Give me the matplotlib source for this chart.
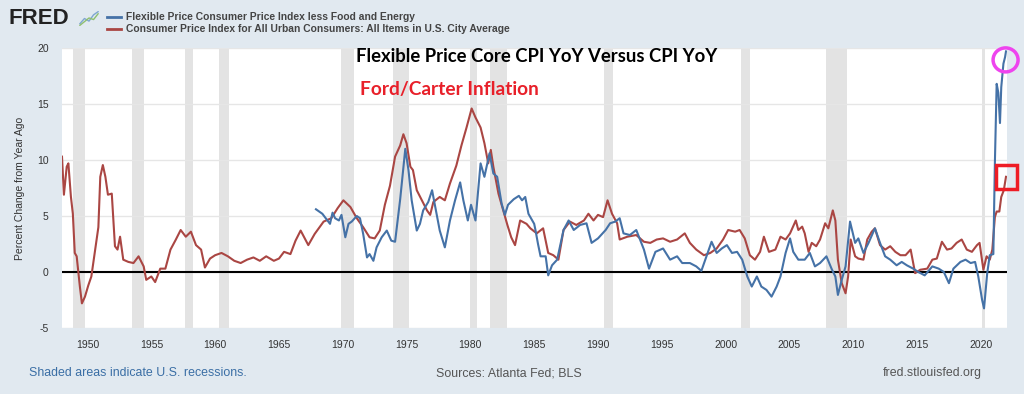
import matplotlib
matplotlib.use("Agg")
import matplotlib.pyplot as plt
import matplotlib.patches as mpatches
import numpy as np

plt.rcParams["axes.unicode_minus"] = False

# CPI all items, percent change from year ago
cpi_years = [1948.0, 1948.15, 1948.37, 1948.5, 1948.7, 1948.85, 1949.0, 1949.15, 1949.4, 1949.56,
             1949.8, 1950.06, 1950.3, 1950.6, 1950.85, 1951.0, 1951.2, 1951.4, 1951.6, 1951.9,
             1952.15, 1952.35, 1952.55, 1952.8, 1953.2, 1953.6, 1954.0, 1954.4, 1954.6, 1955.0,
             1955.3, 1955.7, 1956.1, 1956.5, 1956.9, 1957.3, 1957.7, 1958.1, 1958.5, 1958.9,
             1959.2, 1959.6, 1960.0, 1960.5, 1961.0, 1961.5, 1962.0, 1962.5, 1963.0, 1963.5,
             1964.0, 1964.6, 1965.0, 1965.4, 1965.9, 1966.3, 1966.7, 1967.3, 1967.8, 1968.5,
             1969.1, 1969.6, 1970.05, 1970.6, 1971.1, 1971.6, 1972.1, 1972.5, 1972.9, 1973.3,
             1973.7, 1974.1, 1974.5, 1974.75, 1975.0, 1975.3, 1975.5, 1975.8, 1976.2, 1976.6,
             1976.85, 1977.1, 1977.6, 1978.0, 1978.4, 1978.9, 1979.3, 1979.7, 1980.1, 1980.4,
             1980.8, 1981.1, 1981.4, 1981.6, 1981.8, 1982.2, 1982.5, 1982.9, 1983.2, 1983.5,
             1983.9, 1984.4, 1984.7, 1985.2, 1985.7, 1986.1, 1986.5, 1986.9, 1987.3, 1987.8,
             1988.3, 1988.9, 1989.25, 1989.65, 1990.0, 1990.4, 1990.75, 1991.1, 1991.5, 1991.7,
             1992.3, 1993.0, 1993.6, 1994.1, 1994.6, 1995.1, 1995.65, 1996.2, 1996.8, 1997.2,
             1997.7, 1998.3, 1998.8, 1999.3, 1999.8, 2000.2, 2000.75, 2001.1, 2001.5, 2001.9,
             2002.3, 2002.7, 2003.0, 2003.4, 2003.9, 2004.3, 2004.7, 2005.05, 2005.5, 2005.7,
             2006.0, 2006.2, 2006.5, 2006.75, 2007.1, 2007.4, 2007.8, 2008.05, 2008.4, 2008.6,
             2008.8, 2009.1, 2009.4, 2009.6, 2009.8, 2010.15, 2010.4, 2010.8, 2011.1, 2011.45,
             2011.7, 2012.1, 2012.5, 2012.9, 2013.3, 2013.7, 2014.1, 2014.5, 2014.85, 2015.25,
             2015.8, 2016.2, 2016.55, 2016.95, 2017.35, 2017.7, 2018.1, 2018.5, 2018.9, 2019.3,
             2019.7, 2019.9, 2020.2, 2020.45, 2020.7, 2020.9, 2021.1, 2021.24, 2021.45, 2021.6,
             2021.8, 2021.97]
cpi_vals = [10.3, 6.9, 9.4, 9.7, 6.7, 5.2, 1.7, 1.4, -1.3, -2.8,
            -2.2, -1.2, -0.4, 2.0, 4.0, 8.5, 9.55, 8.5, 6.9, 7.0,
            2.3, 2.0, 3.15, 1.1, 0.9, 0.8, 1.4, 0.5, -0.7, -0.4,
            -0.9, 0.3, 0.3, 2.0, 2.85, 3.75, 3.15, 3.6, 2.4, 2.0,
            0.4, 1.2, 1.5, 1.7, 1.4, 1.0, 0.8, 1.1, 1.3, 1.0,
            1.4, 1.0, 1.2, 1.8, 1.6, 2.8, 3.7, 2.4, 3.4, 4.5,
            4.8, 5.7, 6.4, 5.8, 4.8, 4.0, 3.1, 3.0, 3.7, 6.0,
            7.7, 10.3, 11.3, 12.3, 11.5, 9.4, 9.1, 7.3, 6.4, 5.5,
            5.1, 6.25, 6.7, 6.4, 7.9, 9.5, 11.3, 12.9, 14.6, 13.8,
            12.9, 11.5, 9.7, 10.9, 9.4, 7.0, 5.8, 4.2, 3.1, 2.4,
            4.6, 4.3, 3.9, 3.45, 3.9, 1.7, 1.5, 1.1, 3.75, 4.5,
            4.2, 4.6, 5.2, 4.6, 5.1, 4.9, 6.4, 5.2, 4.35, 2.9,
            3.15, 3.3, 2.7, 2.6, 2.9, 3.0, 2.7, 2.9, 3.45, 2.6,
            2.0, 1.5, 1.7, 2.1, 2.9, 3.75, 3.6, 3.75, 3.0, 1.5,
            1.1, 1.8, 3.15, 1.8, 2.0, 3.15, 2.9, 3.45, 4.6, 3.75,
            4.05, 3.45, 1.8, 2.6, 2.3, 2.9, 4.35, 3.9, 5.5, 4.6,
            1.1, -1.0, -1.9, -0.4, 2.9, 1.4, 1.2, 1.1, 2.9, 3.6,
            3.9, 2.4, 2.0, 2.3, 1.8, 1.5, 1.5, 2.0, -0.1, 0.2,
            0.3, 1.1, 1.2, 2.7, 2.0, 2.1, 2.6, 2.9, 2.0, 1.8,
            2.4, 2.6, 0.2, 1.4, 1.1, 2.0, 4.9, 5.4, 5.4, 6.7,
            7.3, 8.5]

# Flexible price CPI less food and energy, percent change from year ago
core_years = [1967.9, 1968.4, 1968.8, 1969.0, 1969.2, 1969.4, 1969.7, 1969.9, 1970.2, 1970.45,
              1970.7, 1971.1, 1971.35, 1971.6, 1971.9, 1972.1, 1972.4, 1972.65, 1973.05, 1973.45,
              1973.8, 1974.1, 1974.5, 1974.9, 1975.15, 1975.4, 1975.8, 1976.05, 1976.3, 1976.7,
              1977.0, 1977.25, 1977.6, 1978.0, 1978.4, 1978.8, 1979.2, 1979.45, 1979.8, 1980.05,
              1980.4, 1980.8, 1981.1, 1981.5, 1981.8, 1982.1, 1982.45, 1982.7, 1982.95, 1983.4,
              1983.8, 1984.05, 1984.3, 1984.55, 1984.7, 1985.0, 1985.1, 1985.3, 1985.5, 1985.9,
              1986.1, 1986.4, 1986.8, 1987.3, 1987.7, 1988.1, 1988.6, 1989.1, 1989.5, 1990.0,
              1990.6, 1990.95, 1991.35, 1991.7, 1992.0, 1992.5, 1993.0, 1993.6, 1994.0, 1994.5,
              1995.1, 1995.65, 1996.2, 1996.6, 1997.2, 1997.7, 1998.1, 1998.5, 1998.9, 1999.3,
              1999.7, 2000.1, 2000.5, 2000.9, 2001.3, 2001.7, 2002.05, 2002.45, 2002.8, 2003.2,
              2003.6, 2004.0, 2004.3, 2004.7, 2005.05, 2005.3, 2005.7, 2006.2, 2006.6, 2007.0,
              2007.4, 2007.9, 2008.3, 2008.6, 2008.8, 2009.1, 2009.4, 2009.75, 2010.15, 2010.4,
              2010.8, 2011.2, 2011.7, 2012.1, 2012.5, 2012.9, 2013.4, 2013.8, 2014.2, 2014.7,
              2015.1, 2015.6, 2016.2, 2016.7, 2017.1, 2017.5, 2017.85, 2018.4, 2018.8, 2019.2,
              2019.55, 2019.8, 2020.1, 2020.25, 2020.5, 2020.7, 2020.98, 2021.1, 2021.24, 2021.37,
              2021.5, 2021.6, 2021.77, 2021.9, 2021.97]
core_vals = [5.6, 5.2, 4.6, 4.3, 5.3, 4.8, 4.6, 5.1, 3.1, 4.3,
             4.5, 5.0, 4.8, 3.4, 1.3, 1.6, 1.0, 2.2, 3.1, 3.7,
             2.8, 2.7, 6.5, 11.0, 9.1, 6.4, 3.7, 4.3, 5.5, 6.25,
             7.3, 5.8, 3.7, 2.2, 4.6, 6.4, 8.0, 6.4, 4.6, 6.0,
             4.6, 9.7, 8.5, 10.6, 8.8, 8.5, 6.1, 5.1, 6.0, 6.5,
             6.8, 6.4, 6.7, 5.2, 4.9, 4.3, 3.75, 2.5, 1.4, 1.4,
             -0.3, 0.6, 1.1, 3.75, 4.6, 3.75, 4.2, 4.35, 2.6, 3.0,
             3.75, 4.35, 4.5, 4.8, 3.45, 3.3, 3.75, 2.0, 0.3, 1.8,
             2.1, 1.1, 1.4, 0.8, 0.8, 0.5, 0.1, 1.4, 2.7, 1.7,
             2.1, 2.4, 1.7, 1.8, 1.1, -0.4, -1.3, -0.4, -1.3, -1.6,
             -2.2, -1.3, -0.4, 1.7, 3.0, 1.8, 1.1, 1.1, 1.7, 0.5,
             0.8, 1.4, 0.3, -0.4, -2.05, -0.7, 0.5, 4.5, 2.6, 3.0,
             1.7, 2.6, 3.9, 2.6, 1.4, 1.1, 0.6, 0.9, 0.6, 0.3,
             0.0, -0.3, 0.5, 0.3, 0.0, -1.0, 0.3, 0.9, 1.1, 0.8,
             0.9, -0.4, -2.5, -3.25, -0.1, 1.5, 1.6, 9.7, 16.8, 16.0,
             13.3, 16.5, 18.6, 19.2, 19.7]

# NBER recessions (start, end)
recessions = [(1948.9, 1949.8), (1953.5, 1954.4), (1957.6, 1958.3), (1960.3, 1961.1),
              (1969.9, 1970.9), (1973.9, 1975.2), (1980.0, 1980.5), (1981.5, 1982.9),
              (1990.5, 1991.2), (2001.2, 2001.9), (2007.9, 2009.5), (2020.1, 2020.3)]

x_ticks = list(range(1950, 2021, 5))
y_ticks = [-5, 0, 5, 10, 15, 20]

bg = "#e1e9f0"
blue = "#4572a7"
red = "#aa4643"

fig = plt.figure(figsize=(10.24, 3.94), dpi=100, facecolor=bg)
ax = fig.add_axes([62/1024, 66/394, 945/1024, 280/394])
ax.set_facecolor("white")

for a, b in recessions:
    ax.axvspan(a, b, color="#e3e3e3", lw=0, zorder=0)

ax.axhline(0, color="black", lw=1.5, zorder=2)
ax.plot(cpi_years, cpi_vals, color=red, lw=1.5, zorder=3)
ax.plot(core_years, core_vals, color=blue, lw=1.5, zorder=4)

ax.set_xlim(1948.0, 2022.05)
ax.set_ylim(-5, 20)
ax.set_xticks(x_ticks)
ax.set_yticks(y_ticks)
ax.grid(axis="y", color="#e6e6e6", lw=1, zorder=1)
ax.set_axisbelow(True)
for s in ax.spines.values():
    s.set_visible(False)
ax.tick_params(axis="both", length=0, labelsize=7.5, colors="#333333")
ax.tick_params(axis="x", pad=9)
ax.tick_params(axis="y", pad=9.5)
for lab in ax.get_xticklabels() + ax.get_yticklabels():
    lab.set_fontfamily("Liberation Sans")
ax.set_ylabel("Percent Change from Year Ago", fontsize=7.5, color="#333333",
              family="Liberation Sans", labelpad=9)

# annotations drawn on the chart
ax.text((356 - 62)/945, (328 - 57)/280, "Flexible Price Core CPI YoY Versus CPI YoY",
        transform=ax.transAxes, fontsize=13.3, fontweight="bold", family="Lato",
        color="black", va="center")
ax.text((360 - 62)/945, (328 - 90)/280, "Ford/Carter Inflation", transform=ax.transAxes,
        fontsize=13.8, fontweight="bold", family="Lato", color="#e8202a", va="center")

circ = mpatches.Ellipse((0.9985, 0.9575), 25/945, 24/280, transform=ax.transAxes,
                        fill=False, ec="#ee44ee", lw=2.5, clip_on=False, zorder=6)
ax.add_patch(circ)
rect = mpatches.Rectangle(((996 - 62)/945, (328 - 189)/280), 21/945, 24/280,
                          transform=ax.transAxes, fill=False, ec="#ee1c25", lw=2.5,
                          clip_on=False, zorder=6)
ax.add_patch(rect)

# header: logo and legend
fig.text(8/1024, 1 - 18/394, "FRED", fontsize=16, fontweight="bold", color="#222222",
         family="Liberation Sans", va="center")
icon = fig.add_axes([79/1024, 1 - 26/394, 20/1024, 15/394])
icon.set_facecolor(bg)
icon.plot([0, 1, 2, 3, 4], [0.5, 1.5, 1.0, 2.2, 2.8], color="#7fa7d0", lw=1)
icon.plot([0, 1, 2, 3, 4], [0.2, 0.9, 1.6, 1.3, 2.4], color="#8fbf6f", lw=1)
icon.set_xticks([])
icon.set_yticks([])
for s in icon.spines.values():
    s.set_visible(False)

fig.add_artist(plt.Line2D([107/1024, 121/1024], [1 - 17/394, 1 - 17/394], color=blue, lw=2))
fig.add_artist(plt.Line2D([107/1024, 121/1024], [1 - 29/394, 1 - 29/394], color=red, lw=2))
fig.text(126/1024, 1 - 17/394, "Flexible Price Consumer Price Index less Food and Energy",
         fontsize=7.4, fontweight="bold", color="#444444", family="Liberation Sans", va="center")
fig.text(126/1024, 1 - 29/394, "Consumer Price Index for All Urban Consumers: All Items in U.S. City Average",
         fontsize=7.4, fontweight="bold", color="#444444", family="Liberation Sans", va="center")

# footer
fig.text(29/1024, 1 - 373/394, "Shaded areas indicate U.S. recessions.", fontsize=8.9,
         color="#3a6ea5", family="Liberation Sans", va="center")
fig.text(436/1024, 1 - 373/394, "Sources: Atlanta Fed; BLS", fontsize=8.9,
         color="#555555", family="Liberation Sans", va="center")
fig.text(982/1024, 1 - 373/394, "fred.stlouisfed.org", fontsize=8.9,
         color="#555555", family="Liberation Sans", va="center", ha="right")

fig.savefig("out.png", dpi=100, facecolor=bg)
